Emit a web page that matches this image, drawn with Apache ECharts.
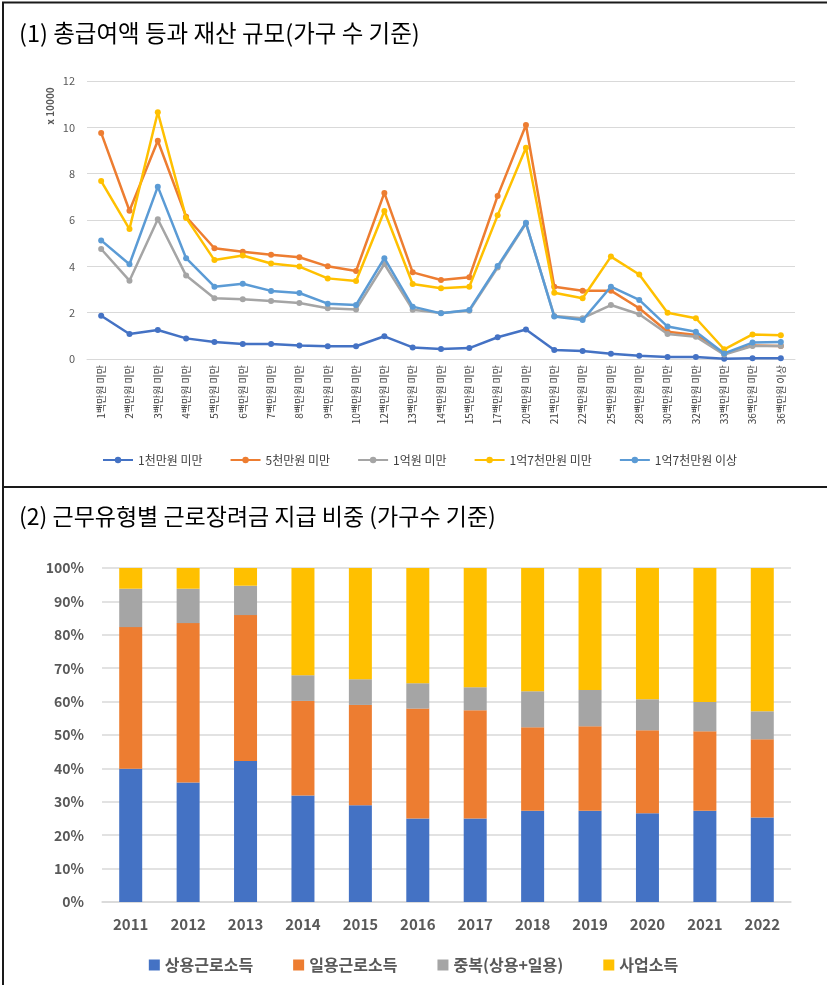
<!DOCTYPE html>
<html>
<head>
<meta charset="utf-8">
<script src="https://cdn.jsdelivr.net/npm/echarts@6/dist/echarts.min.js"></script>
<style>
  html, body { margin: 0; padding: 0; background: #ffffff; }
  #chart { width: 827px; height: 985px; }
</style>
</head>
<body>
<div id="chart"></div>
<script>
// (1) 총급여액 구간별 가구 수 (x 10000)
var incomeCats = ['1백만원 미만', '2백만원 미만', '3백만원 미만', '4백만원 미만', '5백만원 미만',
  '6백만원 미만', '7백만원 미만', '8백만원 미만', '9백만원 미만', '10백만원 미만',
  '12백만원 미만', '13백만원 미만', '14백만원 미만', '15백만원 미만', '17백만원 미만',
  '20백만원 미만', '21백만원 미만', '22백만원 미만', '25백만원 미만', '28백만원 미만',
  '30백만원 미만', '32백만원 미만', '33백만원 미만', '36백만원 미만', '36백만원 이상'];

var lineNames = ['1천만원 미만', '5천만원 미만', '1억원 미만', '1억7천만원 미만', '1억7천만원 이상'];

var under10m = [1.87, 1.08, 1.25, 0.89, 0.73, 0.65, 0.65, 0.58, 0.55, 0.55, 0.98, 0.50, 0.43,
  0.47, 0.94, 1.27, 0.39, 0.35, 0.23, 0.14, 0.09, 0.09, 0.01, 0.03, 0.03];
var under50m = [9.76, 6.40, 9.42, 6.14, 4.78, 4.63, 4.50, 4.39, 4.00, 3.80, 7.17, 3.74, 3.41,
  3.53, 7.04, 10.10, 3.12, 2.95, 2.95, 2.19, 1.18, 1.04, 0.24, 0.58, 0.56];
var under100m = [4.75, 3.38, 6.03, 3.60, 2.62, 2.58, 2.50, 2.42, 2.19, 2.14, 4.10, 2.13, 1.99,
  2.08, 3.95, 5.85, 1.86, 1.76, 2.33, 1.93, 1.08, 0.96, 0.19, 0.56, 0.56];
var under170m = [7.68, 5.61, 10.65, 6.09, 4.27, 4.47, 4.12, 3.99, 3.48, 3.37, 6.39, 3.24, 3.05,
  3.12, 6.20, 9.12, 2.86, 2.62, 4.42, 3.65, 2.00, 1.76, 0.42, 1.06, 1.02];
var over170m = [5.12, 4.09, 7.44, 4.35, 3.12, 3.25, 2.94, 2.85, 2.39, 2.33, 4.35, 2.26, 1.97,
  2.12, 4.01, 5.88, 1.83, 1.68, 3.12, 2.55, 1.40, 1.18, 0.24, 0.71, 0.73];

// (2) 근무유형별 비중 (%)
var years = ['2011', '2012', '2013', '2014', '2015', '2016', '2017', '2018', '2019', '2020', '2021', '2022'];
var barNames = ['상용근로소득', '일용근로소득', '중복(상용+일용)', '사업소득'];
var regularPct = [39.9, 35.8, 42.2, 31.9, 29.0, 25.0, 25.0, 27.3, 27.3, 26.6, 27.3, 25.3];
var dailyPct = [42.4, 47.7, 43.7, 28.3, 30.0, 32.9, 32.4, 25.0, 25.3, 24.8, 23.8, 23.4];
var bothPct = [11.5, 10.3, 8.8, 7.7, 7.7, 7.6, 6.9, 10.8, 10.9, 9.3, 8.8, 8.4];
var businessPct = [6.2, 6.2, 5.3, 32.1, 33.3, 34.5, 35.7, 36.9, 36.5, 39.3, 40.1, 42.9];

var FONT = "'Noto Sans CJK KR', 'Noto Sans', sans-serif";
var lineColors = ['#4472C4', '#ED7D31', '#A5A5A5', '#FFC000', '#5B9BD5'];
var barColors = ['#4472C4', '#ED7D31', '#A5A5A5', '#FFC000'];
var lineData = [under10m, under50m, under100m, under170m, over170m];
var barData = [regularPct, dailyPct, bothPct, businessPct];

var chart = echarts.init(document.getElementById('chart'));

var series = [];
for (var i = 0; i < lineNames.length; i++) {
  series.push({
    name: lineNames[i],
    type: 'line',
    xAxisIndex: 0,
    yAxisIndex: 0,
    data: lineData[i],
    symbol: 'circle',
    symbolSize: 6,
    lineStyle: { width: 2.5, color: lineColors[i] },
    itemStyle: { color: lineColors[i] },
    z: 2 + i
  });
}
for (var j = 0; j < barNames.length; j++) {
  series.push({
    name: barNames[j],
    type: 'bar',
    xAxisIndex: 1,
    yAxisIndex: 1,
    stack: 'share',
    barWidth: 23,
    data: barData[j],
    itemStyle: { color: barColors[j] }
  });
}

var option = {
  backgroundColor: '#ffffff',
  animation: false,
  textStyle: { fontFamily: FONT },
  title: [
    {
      text: '(1) 총급여액 등과 재산 규모(가구 수 기준)',
      left: 14, top: 16,
      textStyle: { fontFamily: FONT, fontSize: 23.5, fontWeight: 'normal', color: '#000000' }
    },
    {
      text: '(2) 근무유형별 근로장려금 지급 비중 (가구수 기준)',
      left: 14, top: 500,
      textStyle: { fontFamily: FONT, fontSize: 23, fontWeight: 'normal', color: '#000000' }
    }
  ],
  legend: [
    {
      data: lineNames,
      left: 97, top: 449,
      itemWidth: 30, itemHeight: 8, itemGap: 27,
      textStyle: { fontFamily: FONT, fontSize: 12, color: '#404040' }
    },
    {
      data: barNames,
      left: 'center', top: 952,
      icon: 'rect',
      itemWidth: 11, itemHeight: 11, itemGap: 40,
      textStyle: { fontFamily: FONT, fontSize: 16, fontWeight: 'bold', color: '#595959' }
    }
  ],
  grid: [
    { left: 87, right: 32, top: 81, bottom: 626 },
    { left: 102, right: 36, top: 568, bottom: 83 }
  ],
  xAxis: [
    {
      gridIndex: 0,
      type: 'category',
      data: incomeCats,
      axisLine: { lineStyle: { color: '#d9d9d9', width: 1 } },
      axisTick: { show: false },
      axisLabel: { rotate: 90, interval: 0, fontSize: 10, color: '#404040', margin: 6, fontFamily: FONT }
    },
    {
      gridIndex: 1,
      type: 'category',
      data: years,
      axisLine: { lineStyle: { color: '#d9d9d9', width: 1.5 } },
      axisTick: { show: false },
      axisLabel: { fontSize: 15, fontWeight: 'bold', color: '#595959', margin: 15, fontFamily: FONT }
    }
  ],
  yAxis: [
    {
      gridIndex: 0,
      type: 'value',
      min: 0, max: 12, interval: 2,
      axisLine: { show: false },
      axisTick: { show: false },
      splitLine: { lineStyle: { color: '#d9d9d9', width: 1 } },
      axisLabel: { fontSize: 11, color: '#595959', margin: 12, fontFamily: FONT }
    },
    {
      gridIndex: 1,
      type: 'value',
      min: 0, max: 100, interval: 10,
      axisLine: { show: false },
      axisTick: { show: false },
      splitLine: { lineStyle: { color: '#d9d9d9', width: 1.5 } },
      axisLabel: { formatter: '{value}%', fontSize: 14, fontWeight: 'bold', color: '#595959', margin: 18, fontFamily: FONT }
    }
  ],
  graphic: [
    { type: 'line', shape: { x1: 2, y1: 2.5, x2: 827, y2: 2.5 }, style: { stroke: '#1a1a1a', lineWidth: 2 } },
    { type: 'line', shape: { x1: 3, y1: 2, x2: 3, y2: 985 }, style: { stroke: '#1a1a1a', lineWidth: 2 } },
    { type: 'line', shape: { x1: 2, y1: 487, x2: 827, y2: 487 }, style: { stroke: '#1a1a1a', lineWidth: 2 } },
    {
      type: 'text', x: 50, y: 106, rotation: Math.PI / 2,
      style: { text: 'x 10000', font: 'bold 10px ' + FONT, fill: '#595959', textAlign: 'center', textVerticalAlign: 'middle' }
    }
  ],
  series: series
};

chart.setOption(option);
</script>
</body>
</html>
